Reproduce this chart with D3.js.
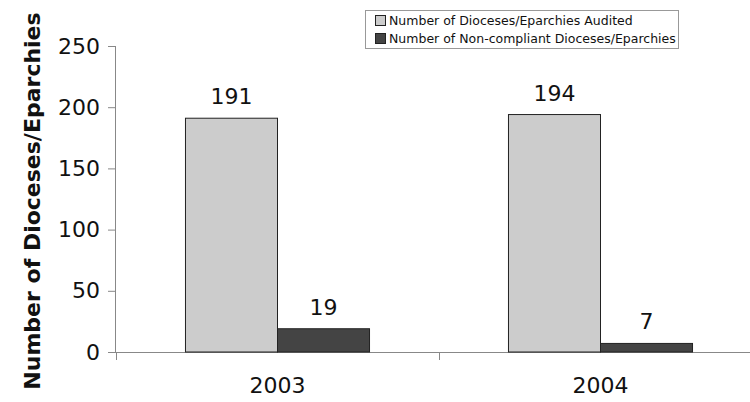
<!DOCTYPE html>
<html><head><meta charset="utf-8">
<script src="https://cdn.jsdelivr.net/npm/d3@7"></script>
<style>body{margin:0;background:#fff}svg{display:block}text{font-family:"DejaVu Sans",sans-serif;fill:#111}</style>
</head><body><svg id="c" width="750" height="402"></svg>
<script>
const categories = ["2003", "2004"];
const seriesNames = ["Number of Dioceses/Eparchies Audited", "Number of Non-compliant Dioceses/Eparchies"];
const audited = [191, 194];
const noncompliant = [19, 7];
const yTicks = [0, 50, 100, 150, 200, 250];
const colors = ["#cccccc", "#444444"];

(function(){
const svg = d3.select("#c");
const mLeft = 116, mBottom = 352, mTop = 46;
const band = 323;
const x = d3.scaleBand().domain(categories).range([mLeft, mLeft + band * categories.length]).paddingInner(0).paddingOuter(0);
const x1 = d3.scaleBand().domain([0, 1]).range([0, x.bandwidth()]).paddingInner(0).paddingOuter(0.755);
const y = d3.scaleLinear().domain([0, 250]).range([mBottom, mTop]);

// y axis
const ya = svg.append("g").attr("transform", `translate(${mLeft},0)`)
  .call(d3.axisLeft(y).tickValues(yTicks).tickSize(8).tickPadding(8));
ya.select(".domain").attr("stroke", "#888").attr("d", `M-0.5,${mTop}V${mBottom}`);
ya.selectAll(".tick line").attr("stroke", "#888");
ya.selectAll(".tick text").style("font-size", "22px").attr("fill", "#111").style("font-family", "DejaVu Sans");

// x axis
const xa = svg.append("g").attr("transform", `translate(0,${mBottom})`);
xa.append("line").attr("x1", mLeft - 8).attr("x2", 750).attr("y1", 0.5).attr("y2", 0.5).attr("stroke", "#888");
const xt = categories.map(c => x(c)).concat([x(categories[categories.length-1]) + x.bandwidth()]);
xa.selectAll("line.t").data(xt).join("line").attr("class","t")
  .attr("x1", d => d + 0.5).attr("x2", d => d + 0.5).attr("y1", 0).attr("y2", 8).attr("stroke", "#888");
xa.selectAll("text").data(categories).join("text")
  .attr("x", d => x(d) + x.bandwidth() / 2).attr("y", 41).attr("text-anchor", "middle")
  .style("font-size", "22px").text(d => d);

// bars
const data = categories.map((c, i) => ({c, vals: [audited[i], noncompliant[i]]}));
const g = svg.append("g");
data.forEach(d => {
  d.vals.forEach((v, j) => {
    const bx = x(d.c) + x1(j);
    g.append("rect").attr("x", bx).attr("y", y(v)).attr("width", x1.bandwidth()).attr("height", mBottom - y(v))
      .attr("fill", colors[j]).attr("stroke", "#222").attr("stroke-width", 1);
    g.append("text").attr("x", bx + x1.bandwidth() / 2).attr("y", y(v) - 14).attr("text-anchor", "middle")
      .style("font-size", "22px").text(v);
  });
});

// y title
svg.append("text").attr("transform", `translate(40,${(mTop+mBottom)/2 + 2}) rotate(-90)`)
  .attr("text-anchor", "middle").style("font-size", "22px").style("font-weight", "bold").text("Number of Dioceses/Eparchies");

// legend
const lg = svg.append("g");
lg.append("rect").attr("x", 365.5).attr("y", 10.5).attr("width", 313).attr("height", 38).attr("fill", "#fff").attr("stroke", "#999");
seriesNames.forEach((n, i) => {
  lg.append("rect").attr("x", 375.5).attr("y", 15.5 + i * 18).attr("width", 10).attr("height", 10)
    .attr("fill", colors[i]).attr("stroke", "#222");
  lg.append("text").attr("x", 389).attr("y", 25 + i * 18).style("font-size", "12.5px").text(n);
});
})();
</script></body></html>
